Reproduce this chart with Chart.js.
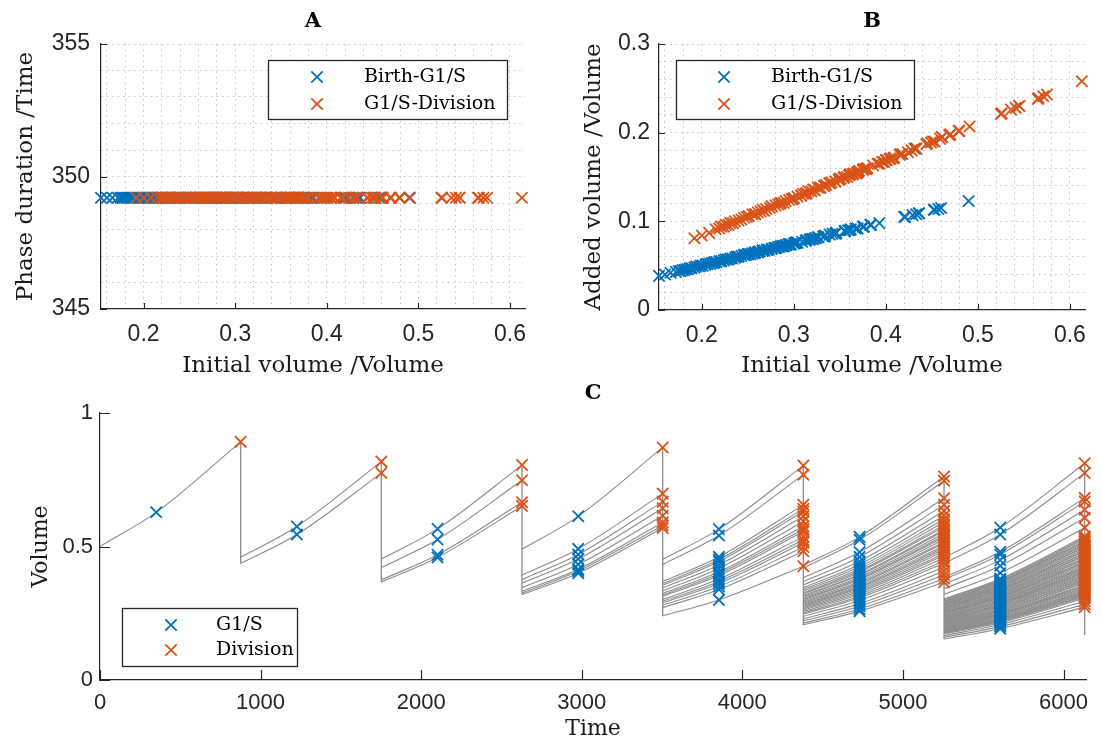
<!DOCTYPE html>
<html>
<head>
<meta charset="utf-8">
<script src="https://cdn.jsdelivr.net/npm/chart.js@4.4.1/dist/chart.umd.min.js"></script>
<style>
  html, body { margin: 0; padding: 0; background: #fff; }
  body { width: 1102px; height: 742px; position: relative; overflow: hidden; }
  canvas { position: absolute; }
</style>
</head>
<body>
<canvas id="panelA" width="550" height="380" style="left:0;top:0"></canvas>
<canvas id="panelB" width="552" height="380" style="left:550px;top:0"></canvas>
<canvas id="panelC" width="1102" height="362" style="left:0;top:380px"></canvas>
<script>
// cell cycle timing, one entry per generation
const birthTimes    = [0, 876, 1752, 2628, 3504, 4380, 5256]
const g1sTimes      = [350, 1226, 2102, 2978, 3854, 4730, 5606]
const divisionTimes = [876, 1752, 2628, 3504, 4380, 5256, 6132]

// volumes of every cell, grouped by generation
const birthVolumes = [
  [0.500],
  [0.460, 0.436],
  [0.453, 0.421, 0.375, 0.367],
  [0.490, 0.393, 0.376, 0.362, 0.346, 0.332, 0.326, 0.320],
  [0.452, 0.433, 0.369, 0.361, 0.355, 0.345, 0.334, 0.324, 0.318, 0.313, 0.302, 0.295, 0.289, 0.280, 0.271, 0.240],
  [0.429, 0.420, 0.383, 0.369, 0.356, 0.346, 0.339, 0.333, 0.327, 0.323, 0.317, 0.314, 0.309, 0.304, 0.301, 0.296,
   0.291, 0.288, 0.283, 0.279, 0.276, 0.271, 0.266, 0.262, 0.257, 0.251, 0.246, 0.238, 0.229, 0.221, 0.213, 0.206],
  [0.457, 0.436, 0.384, 0.376, 0.359, 0.342, 0.321, 0.303, 0.300, 0.297, 0.294, 0.292, 0.289, 0.286, 0.284, 0.281,
   0.279, 0.276, 0.273, 0.271, 0.268, 0.266, 0.263, 0.261, 0.258, 0.255, 0.253, 0.250, 0.248, 0.246, 0.243, 0.240,
   0.238, 0.236, 0.233, 0.231, 0.228, 0.226, 0.224, 0.221, 0.219, 0.216, 0.214, 0.211, 0.209, 0.206, 0.204, 0.201,
   0.199, 0.197, 0.194, 0.192, 0.189, 0.187, 0.185, 0.183, 0.181, 0.179, 0.177, 0.175, 0.172, 0.166, 0.160, 0.1535]
]
const g1sVolumes = [
  [0.628],
  [0.575, 0.545],
  [0.566, 0.526, 0.469, 0.459],
  [0.613, 0.491, 0.470, 0.453, 0.433, 0.415, 0.408, 0.400],
  [0.565, 0.541, 0.461, 0.451, 0.444, 0.431, 0.418, 0.405, 0.398, 0.391, 0.378, 0.369, 0.361, 0.350, 0.339, 0.300],
  [0.536, 0.525, 0.479, 0.461, 0.445, 0.433, 0.424, 0.416, 0.409, 0.404, 0.396, 0.393, 0.386, 0.380, 0.376, 0.370,
   0.364, 0.360, 0.354, 0.349, 0.345, 0.339, 0.333, 0.328, 0.321, 0.314, 0.308, 0.298, 0.286, 0.276, 0.266, 0.258],
  [0.571, 0.545, 0.480, 0.470, 0.449, 0.428, 0.401, 0.379, 0.375, 0.371, 0.368, 0.365, 0.361, 0.358, 0.355, 0.351,
   0.349, 0.345, 0.341, 0.339, 0.335, 0.333, 0.329, 0.326, 0.323, 0.319, 0.316, 0.313, 0.310, 0.308, 0.304, 0.300,
   0.298, 0.295, 0.291, 0.289, 0.285, 0.283, 0.280, 0.276, 0.274, 0.270, 0.268, 0.264, 0.261, 0.258, 0.255, 0.251,
   0.249, 0.246, 0.243, 0.240, 0.236, 0.234, 0.231, 0.229, 0.226, 0.224, 0.221, 0.219, 0.215, 0.208, 0.200, 0.192]
]
const divisionVolumes = [
  [0.892],
  [0.818, 0.775],
  [0.805, 0.748, 0.666, 0.652],
  [0.871, 0.698, 0.668, 0.643, 0.615, 0.590, 0.579, 0.569],
  [0.803, 0.769, 0.656, 0.641, 0.631, 0.613, 0.594, 0.576, 0.565, 0.556, 0.537, 0.524, 0.514, 0.498, 0.482, 0.426],
  [0.762, 0.746, 0.681, 0.656, 0.633, 0.615, 0.602, 0.592, 0.581, 0.574, 0.563, 0.558, 0.549, 0.540, 0.535, 0.526,
   0.517, 0.512, 0.503, 0.496, 0.490, 0.482, 0.473, 0.466, 0.457, 0.446, 0.437, 0.423, 0.407, 0.393, 0.379, 0.366],
  [0.812, 0.775, 0.682, 0.668, 0.638, 0.608, 0.570, 0.538, 0.533, 0.528, 0.522, 0.519, 0.514, 0.508, 0.505, 0.499,
   0.496, 0.490, 0.485, 0.482, 0.476, 0.473, 0.467, 0.464, 0.458, 0.453, 0.450, 0.444, 0.441, 0.437, 0.432, 0.426,
   0.423, 0.419, 0.414, 0.410, 0.405, 0.402, 0.398, 0.393, 0.389, 0.384, 0.380, 0.375, 0.371, 0.366, 0.363, 0.357,
   0.354, 0.350, 0.345, 0.341, 0.336, 0.332, 0.329, 0.325, 0.322, 0.318, 0.315, 0.311, 0.306, 0.295, 0.284, 0.273]
]
// smallest daughter volume at the last division (the daughters run off the chart)
const lastDaughterVolume = 0.169

// phase durations (panel A)
const durationBirthToG1S = 349.2
const durationG1SToDivision = 349.2

// ticks
const volumeGridTicks = [0.16, 0.18, 0.2, 0.22, 0.24, 0.26, 0.28, 0.3, 0.32, 0.34, 0.36, 0.38, 0.4,
  0.42, 0.44, 0.46, 0.48, 0.5, 0.52, 0.54, 0.56, 0.58, 0.6]
const volumeLabelTicks = [0.2, 0.3, 0.4, 0.5, 0.6]
const durationGridTicks = [345, 346, 347, 348, 349, 350, 351, 352, 353, 354, 355]
const durationLabelTicks = [345, 350, 355]
const addedGridTicks = [0, 0.02, 0.04, 0.06, 0.08, 0.1, 0.12, 0.14, 0.16, 0.18, 0.2, 0.22, 0.24, 0.26, 0.28, 0.3]
const addedLabelTicks = [0, 0.1, 0.2, 0.3]
const timeTicks = [0, 1000, 2000, 3000, 4000, 5000, 6000]
const cellVolumeTicks = [0, 0.5, 1]

const BLUE = '#0072BD'
const ORANGE = '#D95319'
const GREY = '#8c8c8c'
const AXIS = '#262626'
const SANS = '"Liberation Sans", Arial, sans-serif'
const SERIF = '"DejaVu Serif", serif'

Chart.defaults.font.family = SANS
Chart.defaults.color = AXIS
Chart.defaults.animation = false

// panel letter, inward tick marks and boxed legend
const panelDecor = {
  id: 'panelDecor',
  afterDraw(chart, args, o) {
    const { ctx, chartArea: a } = chart
    ctx.save()
    ctx.fillStyle = '#000'
    ctx.font = 'bold 21px ' + SERIF
    ctx.textAlign = 'center'
    ctx.textBaseline = 'middle'
    ctx.fillText(o.letter, (a.left + a.right) / 2, o.letterY)

    ctx.strokeStyle = AXIS
    ctx.lineWidth = 1.2
    ctx.beginPath()
    const xs = chart.scales.x, ys = chart.scales.y
    xs.ticks.filter(t => t.label !== '').forEach(t => {
      const px = Math.round(xs.getPixelForValue(t.value)) + 0.5
      ctx.moveTo(px, a.bottom)
      ctx.lineTo(px, a.bottom - o.tickLen)
    })
    ys.ticks.filter(t => t.label !== '').forEach(t => {
      const py = Math.round(ys.getPixelForValue(t.value)) + 0.5
      ctx.moveTo(a.left, py)
      ctx.lineTo(a.left + o.tickLen, py)
    })
    ctx.stroke()

    const L = o.legend
    ctx.fillStyle = '#fff'
    ctx.fillRect(L.box[0], L.box[1], L.box[2], L.box[3])
    ctx.strokeStyle = AXIS
    ctx.lineWidth = 1.3
    ctx.strokeRect(L.box[0] + 0.5, L.box[1] + 0.5, L.box[2], L.box[3])
    ctx.font = L.fontSize + 'px ' + SERIF
    ctx.textAlign = 'left'
    L.rows.forEach((y, i) => {
      const ds = chart.data.datasets[i]
      const h = 5.7
      ctx.strokeStyle = ds.borderColor
      ctx.lineWidth = 1.8
      ctx.beginPath()
      ctx.moveTo(L.markerX - h, y - h); ctx.lineTo(L.markerX + h, y + h)
      ctx.moveTo(L.markerX - h, y + h); ctx.lineTo(L.markerX + h, y - h)
      ctx.stroke()
      ctx.fillStyle = '#000'
      ctx.fillText(ds.label, L.textX, y)
    })
    ctx.restore()
  }
}

// the second series is plotted over the first, as in the original
function crosses(label, color, data, order) {
  return {
    label, data,
    showLine: false,
    pointStyle: 'crossRot',
    pointRadius: 8,
    pointHoverRadius: 8,
    borderColor: color,
    backgroundColor: color,
    pointBorderWidth: 1.8,
    clip: false,
    order
  }
}

function axis(o) {
  const horizontal = o.pos === 'bottom'
  return {
    type: 'linear',
    position: o.pos,
    min: o.min,
    max: o.max,
    afterBuildTicks: s => { s.ticks = o.ticks.map(v => ({ value: v })) },
    afterFit: s => { if (horizontal) s.height = o.size; else s.width = o.size },
    grid: {
      display: !!o.grid,
      drawTicks: false,
      lineWidth: 1,
      color: c => (c.tick && c.tick.value === o.min) ? 'rgba(0,0,0,0)' : '#c4c4c4'
    },
    border: { display: true, color: AXIS, width: 1.2, dash: [1.5, 4] },
    ticks: {
      autoSkip: false,
      maxRotation: 0,
      minRotation: 0,
      padding: o.tickPad,
      color: AXIS,
      font: { size: o.tickSize || 22 },
      callback: v => o.labels.includes(v) ? String(v) : ''
    },
    title: {
      display: true,
      text: o.title,
      color: '#1a1a1a',
      font: { family: SERIF, size: o.titleSize || 23 },
      padding: o.titlePad
    }
  }
}

// panels A and B use every generation after the first cell
const g1Durations = [], g2Durations = [], g1Added = [], g2Added = []
for (let g = 1; g < birthVolumes.length; g++) {
  birthVolumes[g].forEach((b, i) => {
    const s = g1sVolumes[g][i], d = divisionVolumes[g][i]
    g1Durations.push({ x: b, y: durationBirthToG1S })
    g2Durations.push({ x: s, y: durationG1SToDivision })
    g1Added.push({ x: b, y: s - b })
    g2Added.push({ x: s, y: d - s })
  })
}

new Chart(document.getElementById('panelA'), {
  type: 'scatter',
  data: { datasets: [crosses('Birth-G1/S', BLUE, g1Durations, 1), crosses('G1/S-Division', ORANGE, g2Durations, 0)] },
  options: {
    responsive: false,
    events: [],
    layout: { padding: { left: 0, top: 44, right: 25, bottom: 0 } },
    plugins: {
      legend: { display: false }, tooltip: { enabled: false },
      panelDecor: { letter: 'A', letterY: 22, tickLen: 6,
        legend: { box: [268, 60, 239, 59], markerX: 317, textX: 364, rows: [77, 104], fontSize: 19 } }
    },
    scales: {
      x: axis({ pos: 'bottom', min: 0.1535, max: 0.6164, ticks: volumeGridTicks, labels: volumeLabelTicks,
        size: 71, tickPad: 12, tickSize: 23, grid: true, title: 'Initial volume /Volume', titlePad: { top: 0, bottom: 0 } }),
      y: axis({ pos: 'left', min: 345, max: 355, ticks: durationGridTicks, labels: durationLabelTicks,
        size: 101, tickPad: 11, tickSize: 23, grid: true, title: 'Phase duration /Time', titlePad: { top: 12, bottom: 0 } })
    }
  },
  plugins: [panelDecor]
})

new Chart(document.getElementById('panelB'), {
  type: 'scatter',
  data: { datasets: [crosses('Birth-G1/S', BLUE, g1Added, 1), crosses('G1/S-Division', ORANGE, g2Added, 0)] },
  options: {
    responsive: false,
    events: [],
    layout: { padding: { left: 0, top: 44, right: 17, bottom: 0 } },
    plugins: {
      legend: { display: false }, tooltip: { enabled: false },
      panelDecor: { letter: 'B', letterY: 22, tickLen: 6,
        legend: { box: [126, 60, 238, 59], markerX: 174, textX: 221, rows: [77, 104], fontSize: 19 } }
    },
    scales: {
      x: axis({ pos: 'bottom', min: 0.1535, max: 0.6164, ticks: volumeGridTicks, labels: volumeLabelTicks,
        size: 70, tickPad: 12, tickSize: 23, grid: true, title: 'Initial volume /Volume', titlePad: { top: 0, bottom: 0 } }),
      y: axis({ pos: 'left', min: 0, max: 0.3, ticks: addedGridTicks, labels: addedLabelTicks,
        size: 109, tickPad: 9, tickSize: 23, grid: true, title: 'Added volume /Volume', titlePad: { top: 30, bottom: 0 } })
    }
  },
  plugins: [panelDecor]
})

// panel C: marks first, then one grey curve per cell and one drop line per division
const g1sMarks = [], divisionMarks = []
const cellCurves = []
birthVolumes.forEach((gen, g) => {
  gen.forEach((b, i) => {
    g1sMarks.push({ x: g1sTimes[g], y: g1sVolumes[g][i] })
    divisionMarks.push({ x: divisionTimes[g], y: divisionVolumes[g][i] })
    cellCurves.push({
      data: [
        { x: birthTimes[g], y: b },
        { x: g1sTimes[g], y: g1sVolumes[g][i] },
        { x: divisionTimes[g], y: divisionVolumes[g][i] }
      ],
      showLine: true,
      cubicInterpolationMode: 'monotone',
      borderColor: GREY,
      borderWidth: 1.1,
      pointRadius: 0,
      order: 2
    })
  })
})
const dropLines = divisionTimes.map((t, g) => {
  const top = Math.max(...divisionVolumes[g])
  const low = g + 1 < birthVolumes.length ? Math.min(...birthVolumes[g + 1]) : lastDaughterVolume
  return {
    data: [{ x: t, y: top }, { x: t, y: low }],
    showLine: true, borderColor: GREY, borderWidth: 1.3, pointRadius: 0, order: 2
  }
})

new Chart(document.getElementById('panelC'), {
  type: 'scatter',
  data: {
    datasets: [crosses('G1/S', BLUE, g1sMarks, 1), crosses('Division', ORANGE, divisionMarks, 0)]
      .concat(cellCurves, dropLines)
  },
  options: {
    responsive: false,
    events: [],
    layout: { padding: { left: 0, top: 33, right: 16, bottom: 0 } },
    plugins: {
      legend: { display: false }, tooltip: { enabled: false },
      panelDecor: { letter: 'C', letterY: 14, tickLen: 10,
        legend: { box: [122, 228, 175, 58], markerX: 171, textX: 216, rows: [245, 270], fontSize: 19 } }
    },
    scales: {
      x: axis({ pos: 'bottom', min: 0, max: 6140, ticks: timeTicks, labels: timeTicks,
        size: 62, tickPad: 10, grid: false, title: 'Time', titleSize: 22, titlePad: { top: 0, bottom: 0 } }),
      y: axis({ pos: 'left', min: 0, max: 1, ticks: cellVolumeTicks, labels: cellVolumeTicks,
        size: 100, tickPad: 7, grid: false, title: 'Volume', titleSize: 22, titlePad: { top: 28, bottom: 0 } })
    }
  },
  plugins: [panelDecor]
})
</script>
</body>
</html>
